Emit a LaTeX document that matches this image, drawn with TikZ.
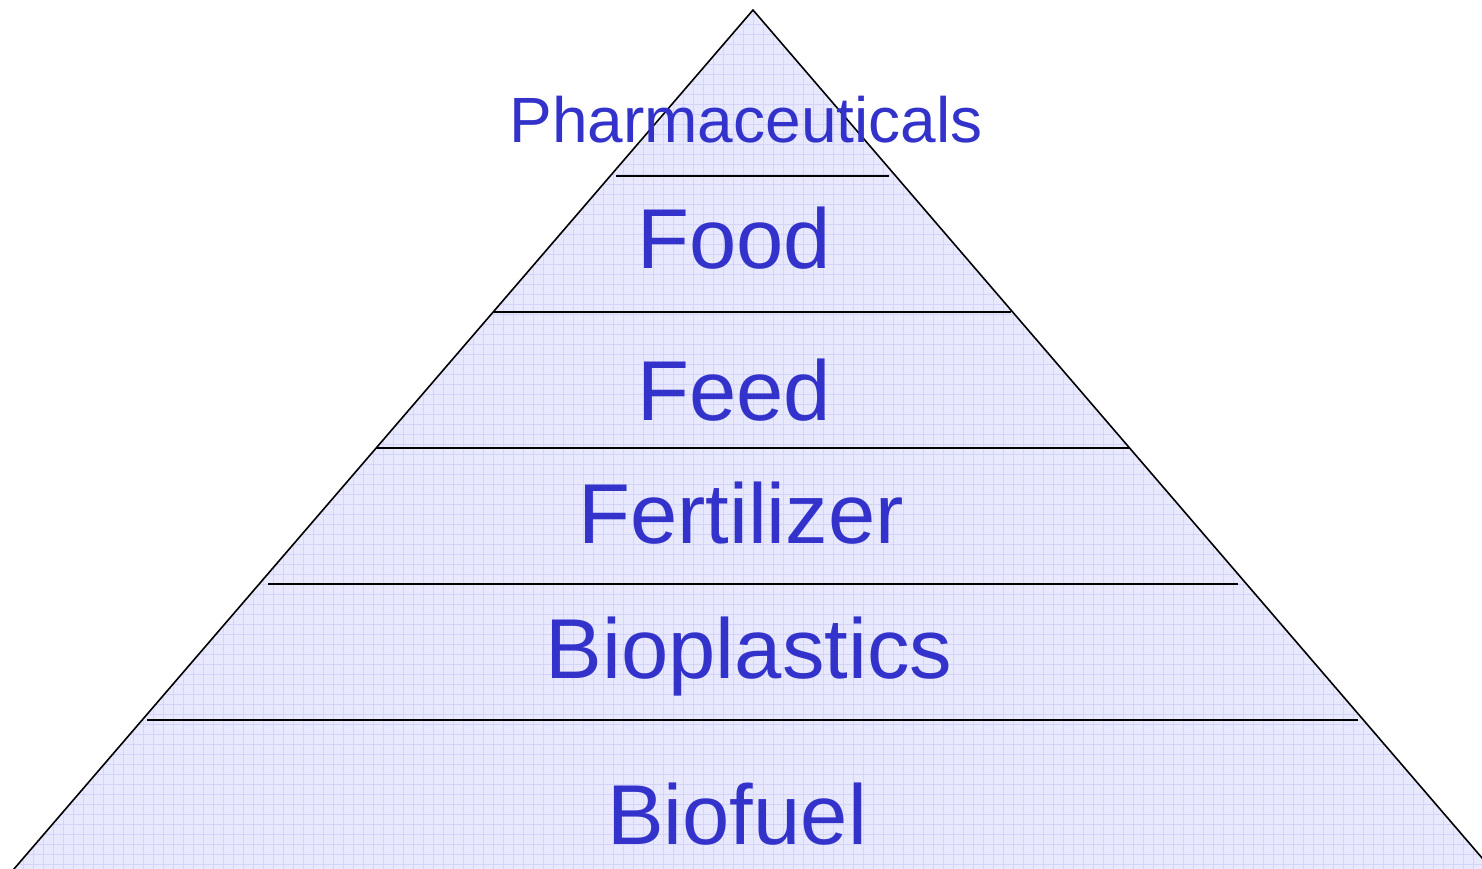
\documentclass[tikz,border=0pt]{standalone}
\usepackage{fontspec}
\setmainfont{Liberation Sans}
\definecolor{txtblue}{HTML}{3333CC}
\definecolor{pyrfill}{HTML}{E8E8FF}
\definecolor{pyrgrid}{HTML}{D4D4FA}
\begin{document}
\begin{tikzpicture}[x=1pt,y=-1pt,
  lvl/.style={font=\fontsize{85}{85}\selectfont, text=txtblue, anchor=base, inner sep=0pt},
  toplvl/.style={font=\fontsize{64}{64}\selectfont, text=txtblue, anchor=base, inner sep=0pt},
  divider/.style={draw=black, line width=1.6pt},
  edge/.style={draw=black, line width=1.6pt, line join=miter},
  gridline/.style={draw=pyrgrid, line width=0.7pt}]
\useasboundingbox (0,0) rectangle (1482,869);
\begin{scope}
  \clip (0,0) rectangle (1482,869);
  \fill[pyrfill] (753,10) -- (1501,880) -- (4.5,880) -- cycle;
  \begin{scope}
    \clip (753,10) -- (1501,880) -- (4.5,880) -- cycle;
    \foreach \gx in {3,13,...,1503} {\draw[gridline] (\gx,0) -- (\gx,880);}
    \foreach \gy in {4,14,...,884} {\draw[gridline] (0,\gy) -- (1510,\gy);}
  \end{scope}
  \draw[edge] (4.5,880) -- (753,10) -- (1501,880);
\end{scope}
% dividers
\coordinate (d1l) at (616,176); \coordinate (d1r) at (889,176);
\coordinate (d2l) at (494,312); \coordinate (d2r) at (1011,312);
\coordinate (d3l) at (376,448); \coordinate (d3r) at (1130,448);
\coordinate (d4l) at (268,584); \coordinate (d4r) at (1238,584);
\coordinate (d5l) at (147,720); \coordinate (d5r) at (1358,720);
\draw[divider] (d1l) -- (d1r);
\draw[divider] (d2l) -- (d2r);
\draw[divider] (d3l) -- (d3r);
\draw[divider] (d4l) -- (d4r);
\draw[divider] (d5l) -- (d5r);
% labels
\node[toplvl] (pharma) at (746,143) {Pharmaceuticals};
\node[lvl] (food) at (734,268) {Food};
\node[lvl] (feed) at (734,420) {Feed};
\node[lvl] (fert) at (741,543) {Fertilizer};
\node[lvl] (biopl) at (749,678) {Bioplastics};
\node[lvl] (biofuel) at (737,844) {Biofuel};
\end{tikzpicture}
\end{document}
